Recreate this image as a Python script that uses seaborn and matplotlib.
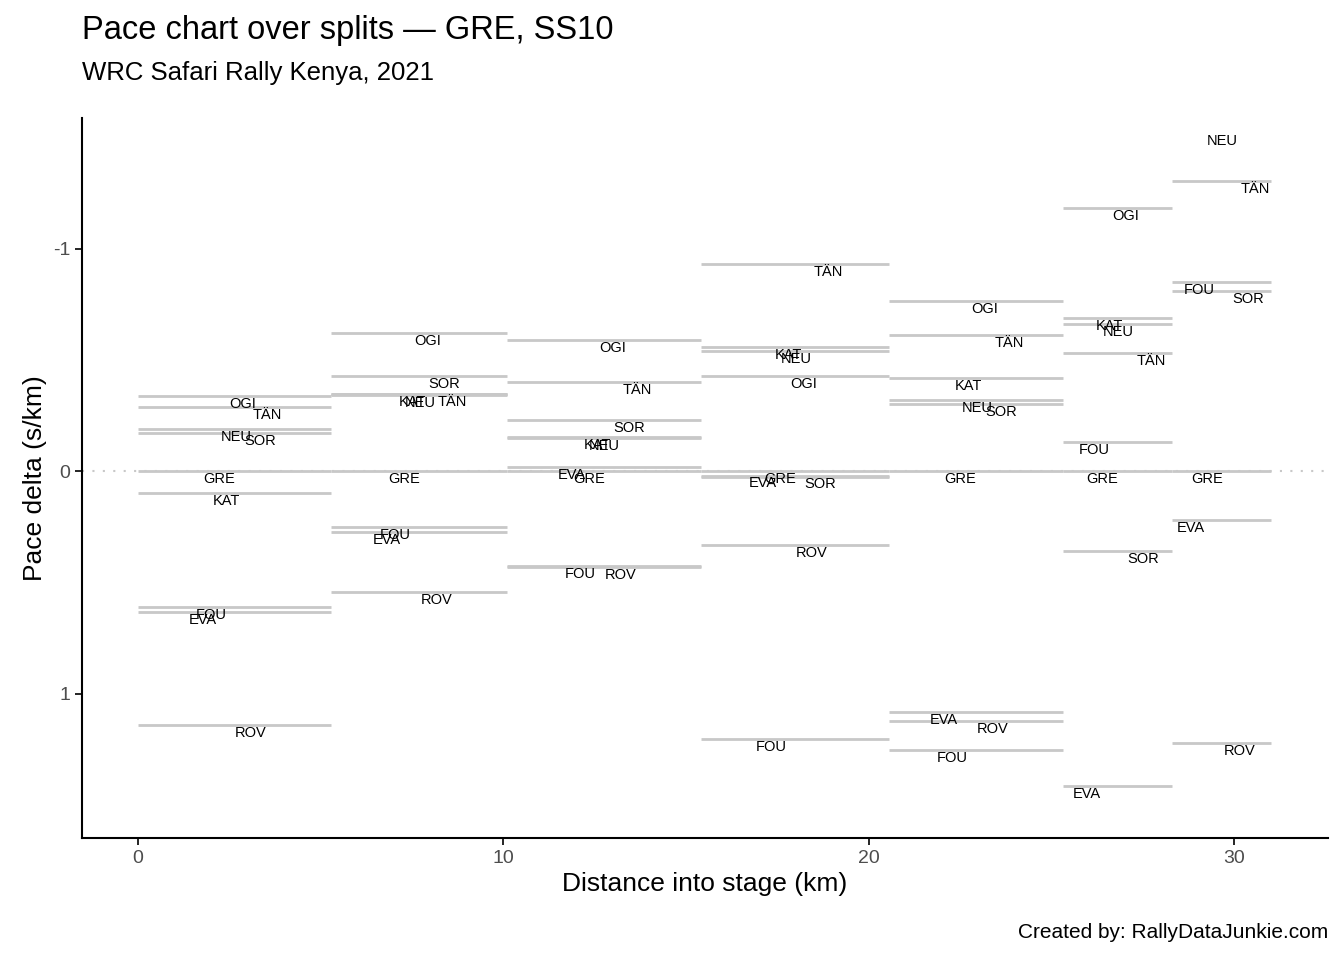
import numpy as np
import pandas as pd
import matplotlib
matplotlib.use("Agg")
import matplotlib.pyplot as plt
import seaborn as sns

# split boundaries (km)
split_starts = [0.0, 5.28, 10.1, 15.4, 20.55, 25.3, 28.3]
split_ends = [5.28, 10.1, 15.4, 20.55, 25.3, 28.3, 31.0]

# per split: driver codes, pace delta (s/km), label position (km)
drivers = [
    ["OGI", "TÄN", "NEU", "SOR", "GRE", "KAT", "FOU", "EVA", "ROV"],
    ["OGI", "SOR", "KAT", "NEU", "TÄN", "GRE", "FOU", "EVA", "ROV"],
    ["OGI", "TÄN", "SOR", "KAT", "NEU", "EVA", "GRE", "FOU", "ROV"],
    ["TÄN", "KAT", "NEU", "OGI", "EVA", "GRE", "SOR", "ROV", "FOU"],
    ["OGI", "TÄN", "KAT", "NEU", "SOR", "GRE", "EVA", "ROV", "FOU"],
    ["OGI", "KAT", "NEU", "TÄN", "FOU", "GRE", "SOR", "EVA"],
    ["NEU", "TÄN", "FOU", "SOR", "GRE", "EVA", "ROV"],
]
pace = [
    [-0.337, -0.288, -0.189, -0.171, 0.0, 0.099, 0.611, 0.634, 1.142],
    [-0.620, -0.427, -0.346, -0.340, -0.346, 0.0, 0.252, 0.274, 0.544],
    [-0.589, -0.400, -0.229, -0.153, -0.150, -0.018, 0.0, 0.427, 0.431],
    [-0.930, -0.557, -0.539, -0.427, 0.020, 0.0, 0.025, 0.333, 1.204],
    [-0.764, -0.611, -0.418, -0.319, -0.301, 0.0, 1.083, 1.124, 1.254],
    [-1.182, -0.688, -0.661, -0.530, -0.130, 0.0, 0.360, 1.416],
    [-1.519, -1.303, -0.849, -0.809, 0.0, 0.220, 1.222],
]
label_km = [
    [2.87, 3.55, 2.68, 3.34, 2.21, 2.43, 2.00, 1.78, 3.09],
    [7.94, 8.38, 7.50, 7.72, 8.60, 7.28, 7.03, 6.81, 8.16],
    [12.99, 13.65, 13.43, 12.56, 12.77, 11.87, 12.34, 12.09, 13.21],
    [18.88, 17.79, 18.00, 18.22, 17.10, 17.57, 18.66, 18.44, 17.32],
    [23.17, 23.83, 22.71, 22.95, 23.61, 22.49, 22.05, 23.39, 22.27],
    [27.03, 26.59, 26.81, 27.72, 26.16, 26.38, 27.50, 25.95],
    [29.68, 30.58, 29.03, 30.37, 29.25, 28.80, 30.14],
]

rows = []
for i in range(len(drivers)):
    for code, p, lx in zip(drivers[i], pace[i], label_km[i]):
        rows.append({"code": code, "pace": p, "label_x": lx,
                     "start": split_starts[i], "end": split_ends[i]})
df = pd.DataFrame(rows)
# segments beyond the plotted pace scale are not drawn (labels still are)
seg = df[df["pace"] > -1.5]

sns.set_theme(style="ticks")
plt.rcParams["font.family"] = ["Liberation Sans", "DejaVu Sans"]

fig = plt.figure(figsize=(13.44, 9.6), dpi=100)
ax = fig.add_axes([82 / 1344, 1 - 838 / 960, (1328 - 82) / 1344, (838 - 118) / 960])

ax.axhline(0, color="#c8c8c8", linestyle=(0, (1, 4)), linewidth=1.5, zorder=0)
ax.hlines(seg["pace"], seg["start"], seg["end"], color="#c8c8c8", linewidth=2)
for _, r in df.iterrows():
    ax.text(r["label_x"], r["pace"] + 0.035, r["code"], fontsize=10.5,
            ha="center", va="center", color="black")

ax.set_xlim(-1.53, 32.56)
ax.set_ylim(1.649, -1.587)
ax.set_xticks([0, 10, 20, 30])
ax.set_yticks([-1, 0, 1])
ax.set_yticklabels(["-1", "0", "1"])
ax.tick_params(labelsize=14, length=5, width=1.2, colors="black", labelcolor="#4d4d4d")
for s in ["top", "right"]:
    ax.spines[s].set_visible(False)
for s in ["left", "bottom"]:
    ax.spines[s].set_linewidth(1.5)
    ax.spines[s].set_color("black")
ax.set_xlabel("Distance into stage (km)", fontsize=19, color="black")
ax.set_ylabel("Pace delta (s/km)", fontsize=19, color="black")

fig.text(82 / 1344, 1 - 30 / 960, "Pace chart over splits — GRE, SS10", fontsize=23.5, va="center", color="black")
fig.text(82 / 1344, 1 - 73 / 960, "WRC Safari Rally Kenya, 2021", fontsize=18.5, va="center", color="black")
fig.text(1328 / 1344, 1 - 933 / 960, "Created by: RallyDataJunkie.com", fontsize=15, ha="right", va="center", color="black")

fig.savefig("out.png", dpi=100)
